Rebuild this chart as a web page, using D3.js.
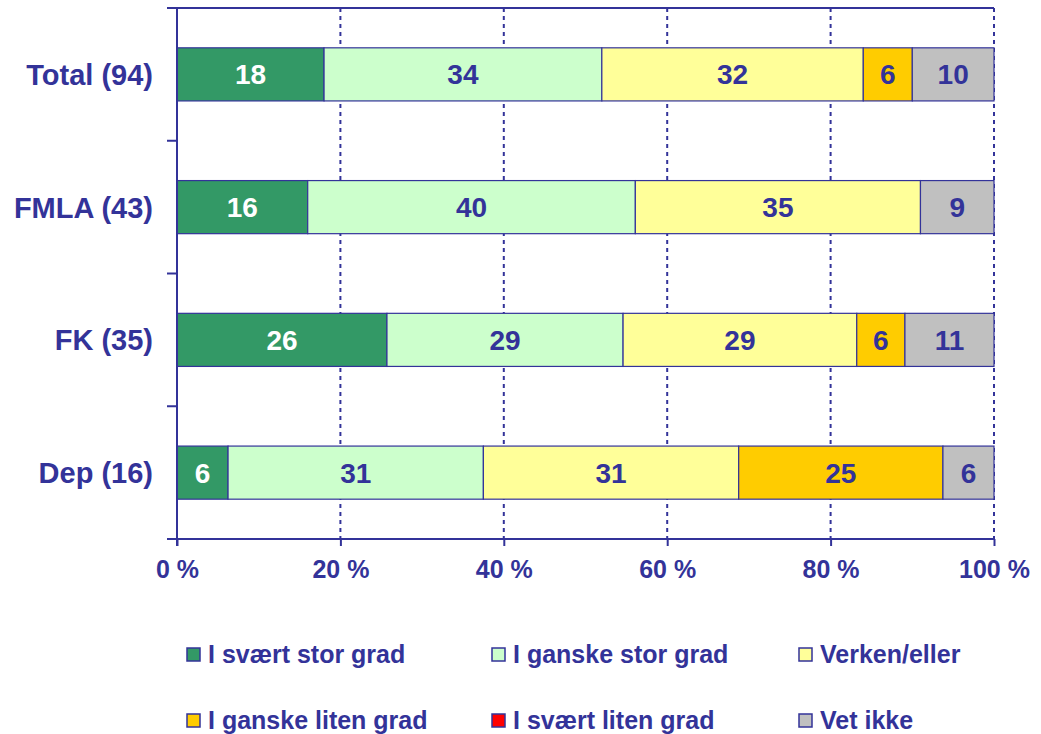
<!DOCTYPE html>
<html>
<head>
<meta charset="utf-8">
<script src="https://cdn.jsdelivr.net/npm/d3@7"></script>
<style>
  body { margin: 0; background: #fff; }
  svg text { font-family: "Liberation Sans", Arial, sans-serif; font-weight: bold; fill: #333399; }
</style>
</head>
<body>
<svg id="chart" width="1041" height="734"></svg>
<script>
const categories = ["Total (94)", "FMLA (43)", "FK (35)", "Dep (16)"];
const seriesNames = ["I svært stor grad", "I ganske stor grad", "Verken/eller", "I ganske liten grad", "I svært liten grad", "Vet ikke"];
const seriesColors = ["#339966", "#CCFFCC", "#FFFF99", "#FFCC00", "#FF0000", "#C0C0C0"];
const labelColors = ["#FFFFFF", "#333399", "#333399", "#333399", "#333399", "#333399"];
// values per category, in series order (percent)
const totalValues = [18, 34, 32, 6, 0, 10];
const fmlaValues = [16.0, 40.1, 34.9, 0, 0, 9.0];
const fkValues = [25.7, 28.9, 28.6, 5.9, 0, 10.9];
const depValues = [6.25, 31.25, 31.25, 25, 0, 6.25];
const xTicks = [0, 20, 40, 60, 80, 100];
const xTickLabels = ["0 %", "20 %", "40 %", "60 %", "80 %", "100 %"];

const valuesByCategory = [totalValues, fmlaValues, fkValues, depValues];
const rows = categories.map((c, i) => {
  const o = { category: c };
  seriesNames.forEach((s, j) => o[s] = valuesByCategory[i][j]);
  return o;
});

const svg = d3.select("#chart");
const ink = "#333399";
const pLeft = 177, pRight = 994, pTop = 8, pBottom = 539;

const x = d3.scaleLinear().domain([0, 100]).range([pLeft, pRight]);
const y = d3.scaleBand().domain(categories).range([pTop, pBottom]).paddingInner(0.6).paddingOuter(0.3);

// gridlines (dashed)
svg.append("g").selectAll("line").data(xTicks.filter(t => t > 0)).join("line")
  .attr("x1", d => x(d)).attr("x2", d => x(d))
  .attr("y1", pTop).attr("y2", pBottom)
  .attr("stroke", ink).attr("stroke-width", 2).attr("stroke-dasharray", "4,4");

// top border
svg.append("line").attr("x1", pLeft - 10).attr("x2", pRight).attr("y1", pTop).attr("y2", pTop)
  .attr("stroke", ink).attr("stroke-width", 2);

// stacked bars
const stack = d3.stack().keys(seriesNames);
const stacked = stack(rows);
const barG = svg.append("g");
stacked.forEach((layer, j) => {
  const g = barG.append("g");
  g.selectAll("rect").data(layer.filter(d => d[1] - d[0] > 0)).join("rect")
    .attr("x", d => x(d[0]))
    .attr("y", d => y(d.data.category))
    .attr("width", d => x(d[1]) - x(d[0]))
    .attr("height", y.bandwidth())
    .attr("fill", seriesColors[j])
    .attr("stroke", ink).attr("stroke-width", 1.2);
  g.selectAll("text").data(layer.filter(d => d[1] - d[0] > 0)).join("text")
    .attr("x", d => (x(d[0]) + x(d[1])) / 2)
    .attr("y", d => y(d.data.category) + y.bandwidth() / 2)
    .attr("dy", "0.36em")
    .attr("text-anchor", "middle")
    .style("font-size", "28px")
    .style("fill", labelColors[j])
    .text(d => Math.round(d[1] - d[0]));
});

// y axis
const yAxis = d3.axisLeft(y).tickSize(0).tickPadding(24).tickSizeOuter(0);
const yg = svg.append("g").attr("transform", `translate(${pLeft},0)`).call(yAxis);
yg.select(".domain").remove();
yg.selectAll("text").style("font-size", "29px").attr("fill", null).attr("dy", "0.36em");
svg.append("line").attr("x1", pLeft).attr("x2", pLeft).attr("y1", pTop).attr("y2", pBottom + 7)
  .attr("stroke", ink).attr("stroke-width", 2);
// band boundary ticks
const boundaries = categories.slice(1).map(c => y(c) - y.step() * y.paddingInner() / 2);
svg.append("g").selectAll("line").data(boundaries).join("line")
  .attr("x1", pLeft - 10).attr("x2", pLeft).attr("y1", d => d).attr("y2", d => d)
  .attr("stroke", ink).attr("stroke-width", 2);

// x axis
const xAxis = d3.axisBottom(x).tickValues(xTicks).tickFormat((d, i) => xTickLabels[i]).tickSize(7).tickPadding(14).tickSizeOuter(0);
const xg = svg.append("g").attr("transform", `translate(0,${pBottom})`).call(xAxis);
xg.select(".domain").remove();
xg.selectAll(".tick line").attr("stroke", ink).attr("stroke-width", 2);
xg.selectAll("text").style("font-size", "25px").attr("fill", null);
svg.append("line").attr("x1", pLeft - 10).attr("x2", pRight).attr("y1", pBottom).attr("y2", pBottom)
  .attr("stroke", ink).attr("stroke-width", 2);

// legend
const legendX = [187, 492, 799];
const legendY = [663, 729];
const lg = svg.append("g");
seriesNames.forEach((s, i) => {
  const cx = legendX[i % 3], by = legendY[Math.floor(i / 3)];
  lg.append("rect").attr("x", cx).attr("y", by - 15).attr("width", 13).attr("height", 13)
    .attr("fill", seriesColors[i]).attr("stroke", ink).attr("stroke-width", 1.5);
  lg.append("text").attr("x", cx + 21).attr("y", by).style("font-size", "25px").text(s);
});
</script>
</body>
</html>
